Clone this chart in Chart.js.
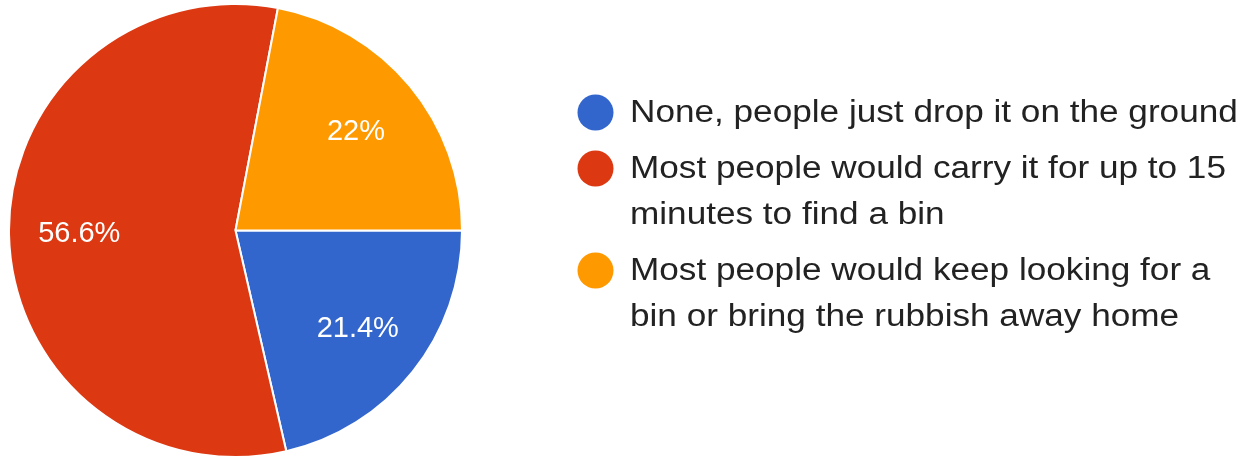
<!DOCTYPE html>
<html>
<head>
<meta charset="utf-8">
<script src="https://cdn.jsdelivr.net/npm/chart.js@4.4.1/dist/chart.umd.min.js"></script>
<style>
  html, body { margin: 0; padding: 0; background: #ffffff; }
  #wrap { position: absolute; left: 0; top: 0; width: 1257px; height: 459px; }
</style>
</head>
<body>
<div id="wrap"><canvas id="c"></canvas></div>
<script>
// Data
const categories = [
  ["None, people just drop it on the ground"],
  ["Most people would carry it for up to 15", "minutes to find a bin"],
  ["Most people would keep looking for a", "bin or bring the rubbish away home"]
];
const values = [21.4, 56.6, 22];
const percentLabels = ["21.4%", "56.6%", "22%"];
const colors = ["#3366CC", "#DC3912", "#FF9900"];

const FONT = '"Liberation Sans", Arial, sans-serif';

const labelPlugin = {
  id: 'sliceLabels',
  afterDatasetsDraw(chart) {
    const ctx = chart.ctx;
    const meta = chart.getDatasetMeta(0);
    ctx.save();
    ctx.fillStyle = '#ffffff';
    ctx.font = '29px ' + FONT;
    ctx.textAlign = 'center';
    ctx.textBaseline = 'middle';
    meta.data.forEach((arc, i) => {
      const p = arc.getProps(['x', 'y', 'startAngle', 'endAngle', 'outerRadius'], true);
      const mid = (p.startAngle + p.endAngle) / 2;
      const r = p.outerRadius * 0.69;
      ctx.fillText(percentLabels[i], p.x + Math.cos(mid) * r, p.y + Math.sin(mid) * r + 1);
    });
    ctx.restore();
  }
};

const legendPlugin = {
  id: 'sideLegend',
  afterDraw(chart) {
    const ctx = chart.ctx;
    ctx.save();
    ctx.font = '31px ' + FONT;
    ctx.textAlign = 'left';
    ctx.textBaseline = 'middle';
    const dotX = 595.5, textX = 630;
    const lineH = 46, itemGap = 10, stretch = 1.134;
    let y = 112.5;
    categories.forEach((lines, i) => {
      ctx.fillStyle = colors[i];
      ctx.beginPath();
      ctx.arc(dotX, y, 18, 0, Math.PI * 2);
      ctx.fill();
      ctx.fillStyle = '#222222';
      lines.forEach((t, j) => {
        ctx.save();
        ctx.translate(textX, y + j * lineH + 1);
        ctx.scale(stretch, 1);
        ctx.fillText(t, 0, 0);
        ctx.restore();
      });
      y += lines.length * lineH + itemGap;
    });
    ctx.restore();
  }
};

new Chart(document.getElementById('c'), {
  type: 'pie',
  data: {
    labels: categories.map(l => l.join(' ')),
    datasets: [{
      data: values,
      backgroundColor: colors,
      borderColor: '#ffffff',
      borderWidth: 2,
      hoverOffset: 0
    }]
  },
  options: {
    responsive: true,
    maintainAspectRatio: false,
    animation: false,
    rotation: 90,
    layout: { padding: { left: 8, top: 3, right: 794, bottom: 1 } },
    plugins: {
      legend: { display: false },
      tooltip: { enabled: false }
    }
  },
  plugins: [labelPlugin, legendPlugin]
});
</script>
</body>
</html>
